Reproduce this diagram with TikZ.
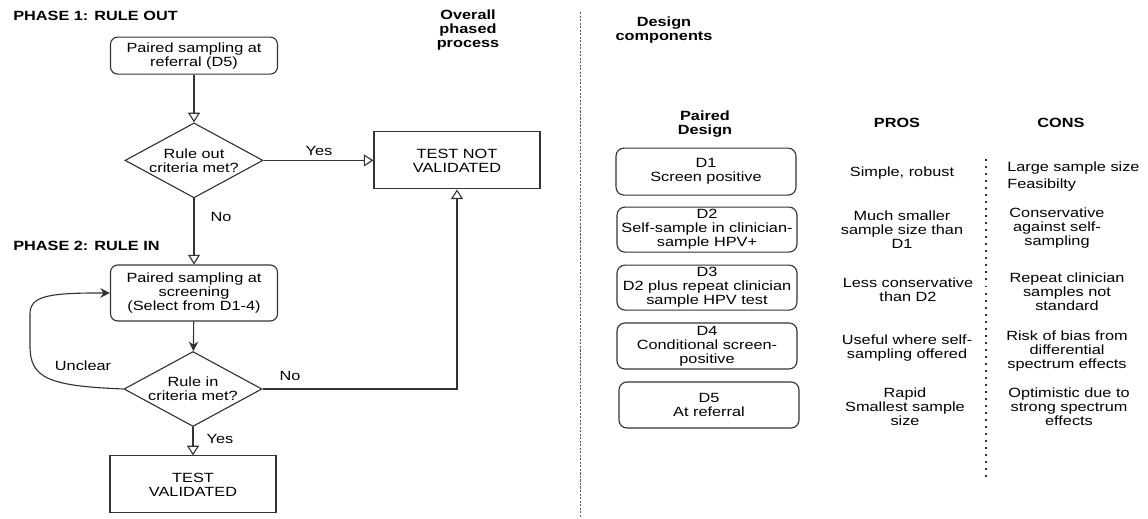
\documentclass[tikz,border=0pt]{standalone}
\usepackage{fontspec}
\setmainfont[FakeStretch=1.22]{Liberation Sans}
\usepackage{xcolor}
\definecolor{line-grey}{HTML}{333333}
\definecolor{sep-grey}{HTML}{5A5A5A}
\usetikzlibrary{arrows.meta, shapes.geometric}

\begin{document}
\begin{tikzpicture}[every node/.style={font=\fontsize{9.5}{10}\selectfont, align=center, inner sep=0pt},
        heading/.style={font=\fontsize{9.5}{10}\selectfont\bfseries},
        roundbox/.style={draw=line-grey, line width=0.8pt, rounded corners=0.18cm, minimum width=4.175cm},
        plainbox/.style={draw=line-grey, line width=0.8pt, minimum width=4.15cm, minimum height=1.425cm},
        decision/.style={draw=line-grey, line width=0.8pt, diamond, aspect=1.8,
                         minimum width=3.45cm, minimum height=1.875cm},
        designbox/.style={draw=line-grey, line width=0.8pt, rounded corners=0.2cm,
                          minimum width=4.5cm, minimum height=1.15cm},
        openarr/.style={draw=line-grey, line width=0.8pt, -{Triangle[open, length=0.24cm, width=0.3cm]}},
        fillarr/.style={draw=line-grey, line width=0.8pt, -{Stealth[length=0.24cm, width=0.24cm]}}]
      \useasboundingbox (0,0) rectangle (28.7,12.95);
      \node[heading, anchor=west] (PH1) at (0.325,12.55) {PHASE 1: RULE OUT};
      \node[heading] (OVR) at (11.7,12.2) {Overall\\phased\\process};
      \node[heading, anchor=west] (PH2) at (0.325,6.8) {PHASE 2: RULE IN};
      \node[roundbox, minimum height=0.925cm] (REF) at (4.85,11.56) {Paired sampling at\\referral (D5)};
      \node[decision] (OUT) at (4.85,8.94) {Rule out\\criteria met?};
      \node[plainbox] (NOTV) at (11.425,8.94) {TEST NOT\\VALIDATED};
      \node[roundbox, minimum height=1.4cm] (SCR) at (4.85,5.625) {Paired sampling at\\screening\\(Select from D1-4)};
      \node[decision] (IN) at (4.825,3.225) {Rule in\\criteria met?};
      \node[plainbox] (VAL) at (4.825,0.84) {TEST\\VALIDATED};
      \draw[openarr] (REF) -- (OUT);
      \draw[openarr] (OUT) -- (NOTV);
      \node (YES1) at (7.975,9.175) {Yes};
      \draw[openarr] (OUT) -- (SCR);
      \node (NO1) at (5.525,7.525) {No};
      \draw[fillarr] (SCR) -- (IN);
      \draw[openarr] (IN.east) -| (NOTV.south);
      \node (NO2) at (7.25,3.55) {No};
      \draw[openarr] (IN) -- (VAL);
      \node (YES2) at (5.5,1.975) {Yes};
      \draw[fillarr] (IN.west) .. controls (1.2,3.3) and (0.75,3.5) .. (0.75,4.3)
            -- (0.75,5.1) .. controls (0.75,5.55) and (1.2,5.63) .. (SCR.west);
      \node (UNC) at (2.075,3.8) {Unclear};
      \draw[sep-grey, line width=0.6pt, dash pattern=on 1.5pt off 1pt] (14.5,12.65) -- (14.5,0);
      \node[heading] (DC) at (16.6,12.2) {Design\\components};
      \node[heading] (PD) at (17.625,9.85) {Paired\\Design};
      \node[heading] (PROS) at (22.425,9.875) {PROS};
      \node[heading] (CONS) at (26.525,9.875) {CONS};
      \node[designbox, minimum height=1.175cm] (D1) at (17.65,8.66) {D1\\Screen positive};
      \node[designbox, minimum height=1.125cm] (D2) at (17.675,7.21) {D2\\Self-sample in clinician-\\sample HPV+};
      \node[designbox, minimum height=1.125cm] (D3) at (17.675,5.76) {D3\\D2 plus repeat clinician\\sample HPV test};
      \node[designbox] (D4) at (17.675,4.3) {D4\\Conditional screen-\\positive};
      \node[designbox] (D5) at (17.725,2.825) {D5\\At referral};
      \node (P1) at (22.55,8.625) {Simple, robust};
      \node (P2) at (22.55,7.2) {Much smaller\\sample size than\\D1};
      \node (P3) at (22.7,5.71) {Less conservative\\than D2};
      \node (P4) at (22.675,4.25) {Useful where self-\\sampling offered};
      \node (P5) at (22.625,2.775) {Rapid\\Smallest sample\\size};
      \draw[line-grey, line width=1.6pt, dash pattern=on 1.4pt off 3.6pt] (24.65,8.975) -- (24.65,0.975);
      \node[anchor=west, align=left] (C1) at (25.175,8.54) {Large sample size\\[0.075cm]Feasibilty};
      \node (C2) at (26.425,7.25) {Conservative\\against self-\\sampling};
      \node (C3) at (26.675,5.65) {Repeat clinician\\samples not\\standard};
      \node (C4) at (26.675,4.175) {Risk of bias from\\differential\\spectrum effects};
      \node (C5) at (26.725,2.775) {Optimistic due to\\strong spectrum\\effects};
    \end{tikzpicture}
\end{document}
